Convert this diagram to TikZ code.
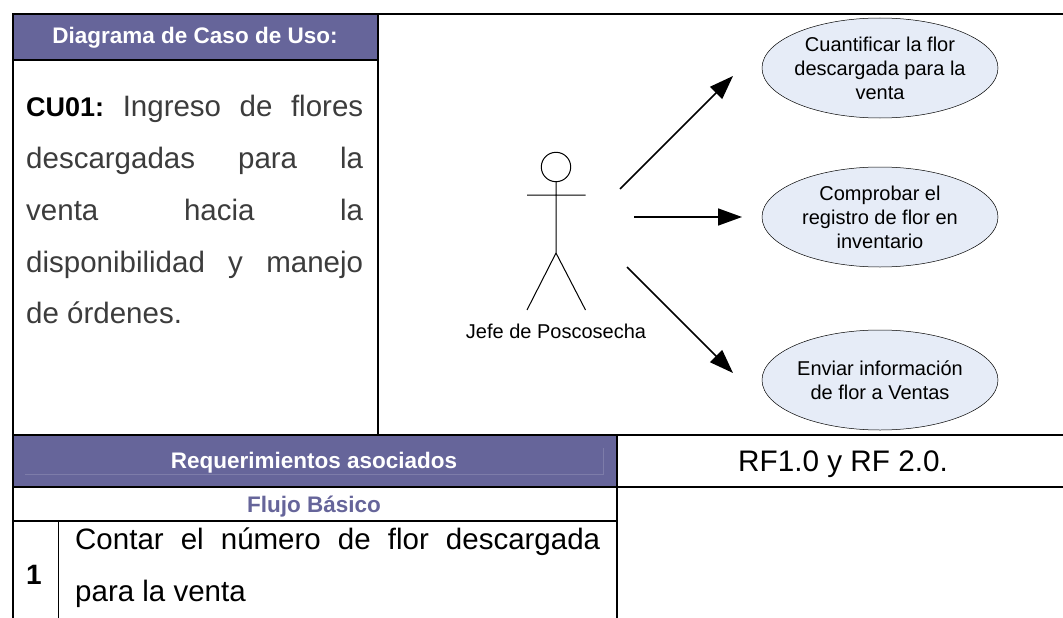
\documentclass[tikz,border=0pt]{standalone}
\usepackage{fontspec}
\setmainfont{Liberation Sans}
\usetikzlibrary{arrows.meta,shapes.geometric}
\definecolor{hdr}{HTML}{66659A}
\definecolor{ell}{HTML}{E6ECF7}
\definecolor{gtxt}{HTML}{3C3C3C}
\frenchspacing
\tikzset{
  x=1pt,y=-1pt,
  heavy/.style={line width=2pt,black},
  thin line/.style={line width=1.2pt,black},
  usecase/.style={ellipse,draw=black,line width=.5pt,fill=ell,minimum width=236pt,minimum height=100pt,inner sep=-12pt,align=center,font=\fontsize{20}{24}\selectfont},
  flow/.style={-{Triangle[length=24pt,width=17pt]},line width=1.5pt},
  limb/.style={line width=1pt},
  big/.style={anchor=base west,inner sep=0pt,font=\fontsize{29.5}{32}\selectfont},
  low/.style={anchor=base west,inner sep=0pt,font=\fontsize{29.5}{32}\selectfont},
  head/.style={anchor=base,inner sep=0pt,font=\fontsize{22.5}{26}\selectfont\bfseries},
}
\begin{document}
\begin{tikzpicture}
\useasboundingbox (0,0) rectangle (1063,618);
\fill[white] (0,0) rectangle (1063,618);
\fill[hdr] (13,15) rectangle (378,60);
\fill[hdr] (13,435) rectangle (617,487);
\draw[hdr!85!white,line width=.5pt] (25,474) -- (603,474) -- (603,448);
% grid
\draw[heavy] (12,14) -- (1063,14);
\draw[heavy] (13,14) -- (13,618);
\draw[heavy] (378,14) -- (378,434);
\draw[heavy] (13,60) -- (378,60);
\draw[heavy] (13,434.5) -- (1063,434.5);
\draw[heavy] (617,434) -- (617,618);
\draw[thin line] (13,487) -- (1063,487);
\draw[heavy] (13,520.5) -- (617,520.5);
\draw[thin line] (58.5,520) -- (58.5,618);
% headings
\node[head,text=white] (h1) at (195,44) {Diagrama de Caso de Uso:};
\node[head,text=white] (h2) at (314,468) {Requerimientos asociados};
\node[head,text=hdr] (h3) at (314,512) {Flujo Básico};
\node[anchor=base,inner sep=0pt,font=\fontsize{29.7}{32}\selectfont] (rf) at (843,471) {RF1.0 y RF 2.0.};
\node[anchor=base,inner sep=0pt,font=\fontsize{28}{30}\selectfont\bfseries] (n1) at (34,584) {1};
% body text
\node[big,text=gtxt] (t1) at (26,117) {\makebox[337pt][s]{\textcolor{black}{\fontsize{27}{30}\selectfont\bfseries CU01:} Ingreso de flores}};
\node[big,text=gtxt] (t2) at (26,168) {\makebox[337pt][s]{descargadas para la}};
\node[big,text=gtxt] (t3) at (26,220) {\makebox[337pt][s]{venta hacia la}};
\node[big,text=gtxt] (t4) at (26,272) {\makebox[337pt][s]{disponibilidad y manejo}};
\node[big,text=gtxt] (t5) at (26,323) {de órdenes.};
\node[low] (c1) at (75,549) {\makebox[525pt][s]{Contar el número de flor descargada}};
\node[low] (c2) at (75,601) {para la venta};
% actor
\draw[limb] (556,167) circle[radius=14.7];
\coordinate (neck) at (556,181.7);
\coordinate (hip) at (556,253);
\coordinate (armL) at (527,195);
\coordinate (armR) at (585.5,195);
\coordinate (footL) at (527,310);
\coordinate (footR) at (585.5,310);
\draw[limb] (neck) -- (hip) (armL) -- (armR) (footL) -- (hip) -- (footR);
\node[anchor=base,inner sep=0pt,font=\fontsize{20}{24}\selectfont] (actor) at (556,338) {Jefe de Poscosecha};
% use cases
\node[usecase] (u1) at (880,68) {Cuantificar la flor\\descargada para la\\venta};
\node[usecase] (u2) at (880,217) {Comprobar el\\registro de flor en\\inventario};
\node[usecase] (u3) at (880,380) {Enviar información\\de flor a Ventas};
% arrows
\coordinate (a1) at (620,189);
\coordinate (e1) at (733,76);
\coordinate (a2) at (634,217);
\coordinate (e2) at (742,217);
\coordinate (a3) at (627,267);
\coordinate (e3) at (733,373);
\draw[flow] (a1) -- (e1);
\draw[flow] (a2) -- (e2);
\draw[flow] (a3) -- (e3);
\end{tikzpicture}
\end{document}
